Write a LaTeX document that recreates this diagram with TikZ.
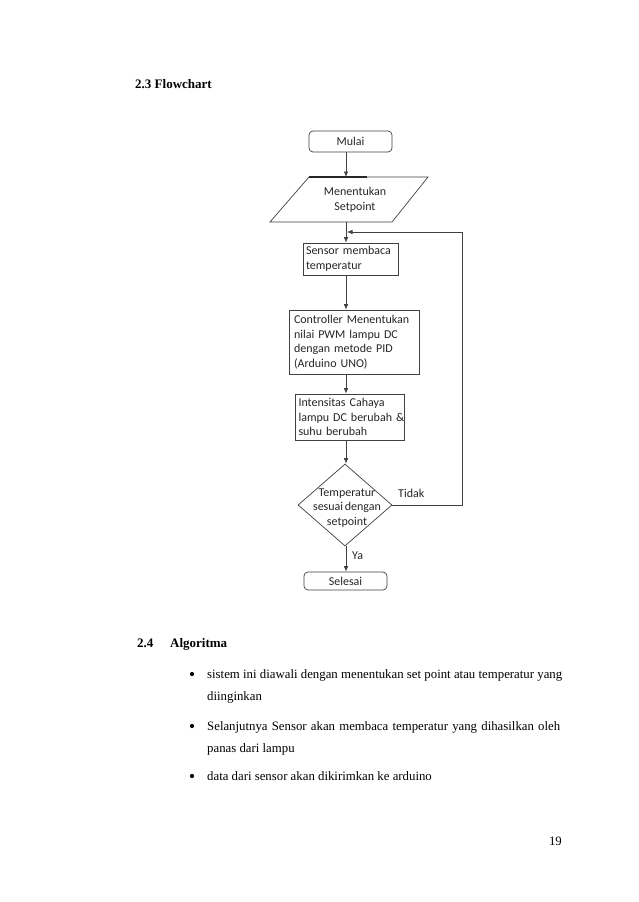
\documentclass[tikz,border=0pt]{standalone}
\usepackage{fontspec}
\setmainfont{Liberation Serif}
\newfontfamily\flowfont[WordSpace=0.6]{Carlito}
\usetikzlibrary{shapes.geometric,arrows.meta}
\begin{document}
\begin{tikzpicture}[x=1pt,y=-1pt,
  flowtext/.style={font=\flowfont\fontsize{12}{14.5}\selectfont, text=black!85},
  procbox/.style={flowtext, draw=black!75, line width=0.7pt, align=left, anchor=center},
  termbox/.style={flowtext, draw=black!75, line width=0.7pt, rounded corners=4pt, inner sep=0pt, anchor=center},
  decbox/.style={draw=black!75, line width=0.7pt, shape=diamond, inner sep=0pt, minimum width=94pt, minimum height=82pt},
  conn/.style={draw=black!75, line width=0.7pt, -{Latex[length=5.5pt,width=4.5pt]}},
  pagetext/.style={font=\fontsize{12.8}{15}\selectfont, inner sep=0pt, anchor=base west},
  headtext/.style={pagetext, font=\fontsize{13}{15}\selectfont\bfseries},
  bulletdot/.style={circle, fill=black, inner sep=0pt, minimum size=4.2pt},
  lbl/.style={flowtext, inner sep=0pt}
]
\useasboundingbox (0,0) rectangle (638,902);
\fill[white] (0,0) rectangle (638,902);

% page text
\node[headtext] (h23) at (135,88) {2.3 Flowchart};
\node[headtext] (h24n) at (137,647) {2.4};
\node[headtext] (h24) at (170,647) {Algoritma};

\node[bulletdot] (b1) at (192,674) {};
\node[pagetext] (l1) at (207,678) {\hbox to 355pt{sistem ini diawali dengan menentukan set point atau temperatur yang}};
\node[pagetext] (l2) at (207,700) {diinginkan};
\node[bulletdot] (b2) at (192,726) {};
\node[pagetext] (l3) at (207,730) {\hbox to 353pt{Selanjutnya Sensor akan membaca temperatur yang dihasilkan oleh}};
\node[pagetext] (l4) at (207,752) {panas dari lampu};
\node[bulletdot] (b3) at (192,776) {};
\node[pagetext] (l5) at (207,780) {data dari sensor akan dikirimkan ke arduino};
\node[pagetext, anchor=base east] (pg) at (562,845) {19};

% flowchart
\coordinate (ax) at (346,0);
\node[termbox, minimum width=83pt, minimum height=21pt] (mulai) at (350.5,141.5) {Mulai};

% parallelogram (input)
\coordinate (ptl) at (309,177);
\coordinate (ptr) at (428,177);
\coordinate (pbr) at (392,222);
\coordinate (pbl) at (270,222);
\coordinate (partop) at (346,177);
\coordinate (parbot) at (346,222);
\draw[black!75, line width=0.7pt] (ptl) -- (ptr) -- (pbr) -- (pbl) -- cycle;
\draw[black!85, line width=1.4pt] (ptl) -- (367,177);
\node[flowtext, align=center, inner sep=0pt] (setp) at (355,200) {Menentukan\\Setpoint};

\node[procbox, minimum width=95pt, minimum height=32pt, text width=89pt, inner xsep=3pt, inner ysep=0pt] (sensor) at (350.5,259) {Sensor~membaca\\temperatur};
\node[procbox, minimum width=130pt, minimum height=64pt, text width=120pt, inner xsep=5pt, inner ysep=0pt] (ctrl) at (354,342) {Controller~Menentukan\\nilai~PWM~lampu~DC\\dengan~metode~PID\\(Arduino~UNO)};
\node[procbox, minimum width=109pt, minimum height=46pt, text width=106pt, inner xsep=1.5pt, inner ysep=0pt] (intens) at (349.5,417) {\hspace*{2pt}Intensitas~Cahaya\\\hspace*{2pt}lampu~DC~berubah~\&\\\hspace*{2pt}suhu~berubah};

\node[decbox] (dec) at (345,505) {};
\node[flowtext, align=center, inner sep=0pt] (dectext) at (347,508) {Temperatur\\sesuai~dengan\\setpoint};

\node[termbox, minimum width=83pt, minimum height=18pt] (selesai) at (345.5,581) {Selesai};

\node[lbl, anchor=west] (tidak) at (398,493) {Tidak};
\node[lbl, anchor=west] (ya) at (352,556) {Ya};

% connectors
\draw[conn] (mulai.south -| ax) -- (partop);
\draw[conn] (parbot) -- (sensor.north -| ax);
\draw[conn] (sensor.south -| ax) -- (ctrl.north -| ax);
\draw[conn] (ctrl.south -| ax) -- (intens.north -| ax);
\draw[conn] (intens.south -| ax) -- (dec.north -| ax);
\draw[conn] (dec.south -| ax) -- (selesai.north -| ax);
\coordinate (fb1) at (462,505);
\coordinate (fb2) at (462,232);
\coordinate (fbend) at (347,232);
\draw[conn] (dec.east) -- (fb1) -- (fb2) -- (fbend);
\end{tikzpicture}
\end{document}
